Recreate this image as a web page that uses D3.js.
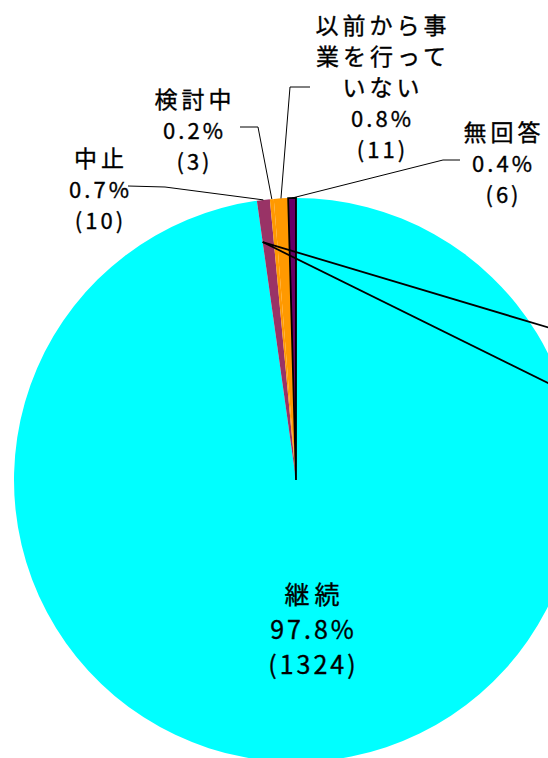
<!DOCTYPE html>
<html lang="ja">
<head>
<meta charset="utf-8">
<script src="https://cdn.jsdelivr.net/npm/d3@7"></script>
<style>
  html, body { margin: 0; padding: 0; background: #fff; overflow: hidden; }
  svg { display: block; }
  text { font-family: "Noto Sans CJK JP", "Noto Sans", sans-serif; fill: #000; stroke: #000; stroke-width: 0.35px; }
</style>
</head>
<body>
<svg id="chart" width="548" height="758"></svg>
<script>
// Survey responses: continuation status of the business
const categories = ["継続", "中止", "検討中", "以前から事業を行っていない", "無回答"];
const counts = [1324, 10, 3, 11, 6];
const colors = ["#00FFFF", "#993366", "#FF9900", "#FF9900", "#660066"];
const outlined = [false, false, false, false, true];

// Label placement: centre x, y of the first text line, line gap, and type settings
const labelPos = [
  { x: 312, y: 593, gap: 35, nameSize: 25, nameLs: 5, numSize: 25, numLs: 3 },
  { x: 99,  y: 157, gap: 31, nameSize: 23, nameLs: 4, numSize: 22, numLs: 3 },
  { x: 193, y: 98,  gap: 31, nameSize: 23, nameLs: 4, numSize: 22, numLs: 3 },
  { x: 381, y: 24,  gap: 31, nameSize: 23, nameLs: 4, numSize: 22, numLs: 3 },
  { x: 502, y: 131, gap: 31, nameSize: 23, nameLs: 4, numSize: 22, numLs: 3 }
];
const leaderFrom = [null, [[128, 186], [165, 187]], [[240, 127], [258, 127]], [[310, 87], [290, 87]], [[460, 160], [443, 160]]];
// Extra leader lines running off to the right of the plot
const offLeaderEnds = [[560, 331], [560, 389]];

const svg = d3.select("#chart");
const cx = 296, cy = 480, R = 282;
const total = d3.sum(counts);

const data = categories.map((c, i) => ({ name: c, value: counts[i], color: colors[i], outlined: outlined[i], i }));

const pie = d3.pie().value(d => d.value).sort(null).startAngle(0).endAngle(2 * Math.PI);
const arcs = pie(data);
const arc = d3.arc().innerRadius(0).outerRadius(R);
const edgeArc = d3.arc().innerRadius(R).outerRadius(R);

const g = svg.append("g").attr("transform", `translate(${cx},${cy})`);

g.selectAll("path.slice")
  .data(arcs)
  .join("path")
  .attr("class", "slice")
  .attr("d", arc)
  .attr("fill", d => d.data.color)
  .attr("stroke", d => d.data.outlined ? "#000" : "none")
  .attr("stroke-width", d => d.data.outlined ? 1.8 : 0)
  .attr("stroke-linejoin", "miter");

// outlined slices drawn on top so their border stays visible
g.selectAll("path.slice").filter(d => d.data.outlined).raise();

// off-plot leader lines start on the edge of the 中止 slice
const stopArc = arcs[1];
const a0 = stopArc.startAngle;
const rStart = R * 0.852;
const sx = cx + rStart * Math.sin(a0), sy = cy - rStart * Math.cos(a0);
svg.selectAll("line.off")
  .data(offLeaderEnds)
  .join("line")
  .attr("class", "off")
  .attr("x1", sx).attr("y1", sy)
  .attr("x2", d => d[0]).attr("y2", d => d[1])
  .attr("stroke", "#000").attr("stroke-width", 1.8);

// leader lines from labels to the slice edges
const line = d3.line();
arcs.forEach((a, i) => {
  if (!leaderFrom[i]) return;
  const [ex, ey] = edgeArc.centroid(a);
  const pts = leaderFrom[i].concat([[cx + ex, cy + ey]]);
  svg.append("path")
    .attr("d", line(pts))
    .attr("fill", "none")
    .attr("stroke", "#000")
    .attr("stroke-width", 1);
});

// labels: name (wrapped every 5 chars), percentage, count
const fmtPct = v => (v / total * 100).toFixed(1) + "%";
function wrap(s, n) {
  const out = [];
  for (let k = 0; k < s.length; k += n) out.push(s.slice(k, k + n));
  return out;
}
arcs.forEach((a, i) => {
  const p = labelPos[i];
  const nameLines = wrap(a.data.name, 5).map(t => ({ t, size: p.nameSize, ls: p.nameLs }));
  const numLines = [fmtPct(a.data.value), `(${a.data.value})`].map(t => ({ t, size: p.numSize, ls: p.numLs }));
  const t = svg.append("text").attr("text-anchor", "middle");
  nameLines.concat(numLines).forEach((ln, k) => {
    t.append("tspan")
      .attr("x", p.x + ln.ls / 2)
      .attr("y", p.y + k * p.gap)
      .attr("dominant-baseline", "central")
      .attr("font-size", ln.size)
      .attr("letter-spacing", ln.ls)
      .text(ln.t);
  });
});
</script>
</body>
</html>
